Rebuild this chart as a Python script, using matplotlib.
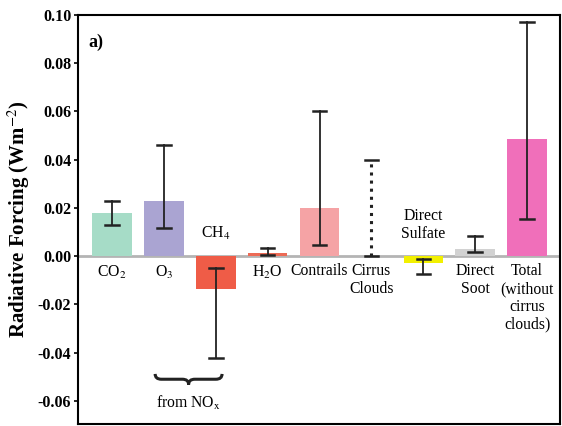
import matplotlib.pyplot as plt
from matplotlib.path import Path
from matplotlib.patches import PathPatch

plt.rcParams['font.family'] = ['Liberation Serif', 'DejaVu Serif']
plt.rcParams['mathtext.fontset'] = 'stix'

# values (W m-2)
species = ['CO2', 'O3', 'CH4', 'H2O', 'Contrails', 'Cirrus', 'Sulfate', 'Soot', 'Total']
forcing = [0.018, 0.023, -0.0135, 0.0015, 0.020, 0.0, -0.003, 0.003, 0.0485]
err_low = [0.013, 0.0115, -0.0420, 0.0005, 0.0045, 0.0, -0.0075, 0.0018, 0.0153]
err_high = [0.023, 0.046, -0.0050, 0.0035, 0.060, 0.040, -0.0013, 0.0085, 0.0970]
colors = ['#a6dcc7', '#aaa4d2', '#ef5c47', '#ec6a55', '#f5a3a5', 'none', '#f2f000', '#d2d2d2', '#f06fba']

labels = [r'CO$_2$', r'O$_3$', r'CH$_4$', r'H$_2$O', 'Contrails', 'Cirrus\nClouds',
          'Direct\nSulfate', 'Direct\nSoot', 'Total\n(without\ncirrus\nclouds)']
label_above = [False, False, True, False, False, False, True, False, False]
ytick_vals = [-0.06, -0.04, -0.02, 0.00, 0.02, 0.04, 0.06, 0.08, 0.10]
ytick_text = ['-0.06', '-0.04', '-0.02', '0.00', '0.02', '0.04', '0.06', '0.08', '0.10']

fig = plt.figure(figsize=(5.62, 4.26), dpi=100)
ax = fig.add_axes([0.139, 0.005, 0.857, 0.96])

x = list(range(len(species)))
ax.axhline(0, color='#b4b4b4', lw=2, zorder=1)
ax.bar(x, forcing, width=0.76, color=colors, zorder=2)

for i in x:
    ls = ':' if species[i] == 'Cirrus' else '-'
    lw = 2.2 if species[i] == 'Cirrus' else 1.3
    ax.plot([i, i], [err_low[i], err_high[i]], color='#222222', lw=lw, ls=ls, zorder=3)
    for yv in (err_low[i], err_high[i]):
        ax.plot([i - 0.13, i + 0.13], [yv, yv], color='#222222', lw=1.8, zorder=3)

# category labels next to the zero line
for i, lab in enumerate(labels):
    if label_above[i]:
        ax.text(i, 0.0058, lab, ha='center', va='bottom', fontsize=11.3, linespacing=1.15)
    else:
        ax.text(i, -0.0030, lab, ha='center', va='top', fontsize=11.3, linespacing=1.15)

# brace under the NOx-related terms (O3 and CH4)
x0, x1 = 0.83, 2.12
xm = (x0 + x1) / 2
yt, yb = -0.0488, -0.0532
ymid = (yt + yb) / 2
verts = [(x0, yt), (x0, ymid), (x0 + 0.12, ymid),
         (xm - 0.12, ymid), (xm, ymid), (xm, yb),
         (xm, ymid), (xm + 0.12, ymid),
         (x1 - 0.12, ymid), (x1, ymid), (x1, yt)]
codes = [Path.MOVETO, Path.CURVE3, Path.CURVE3,
         Path.LINETO, Path.CURVE3, Path.CURVE3,
         Path.CURVE3, Path.CURVE3,
         Path.LINETO, Path.CURVE3, Path.CURVE3]
ax.add_patch(PathPatch(Path(verts, codes), fill=False, lw=2.2, edgecolor='#222222'))
ax.text(xm, -0.0610, r'from NO$_{\mathrm{x}}$', ha='center', va='center', fontsize=11.3)

ax.text(-0.45, 0.0885, 'a)', fontsize=13, fontweight='bold', va='center')

ax.set_xlim(-0.655, 8.63)
ax.set_ylim(-0.0695, 0.10)
ax.set_xticks([])
ax.set_yticks(ytick_vals)
ax.set_yticklabels(ytick_text, fontsize=11.5, fontweight='bold')
ax.tick_params(axis='y', direction='out', length=3, width=1.2, pad=2)
for s in ax.spines.values():
    s.set_linewidth(1.5)
ax.set_ylabel(r'Radiative Forcing (Wm$^{-2}$)', fontsize=15, fontweight='bold', labelpad=4)

fig.savefig('out.png', dpi=100)
